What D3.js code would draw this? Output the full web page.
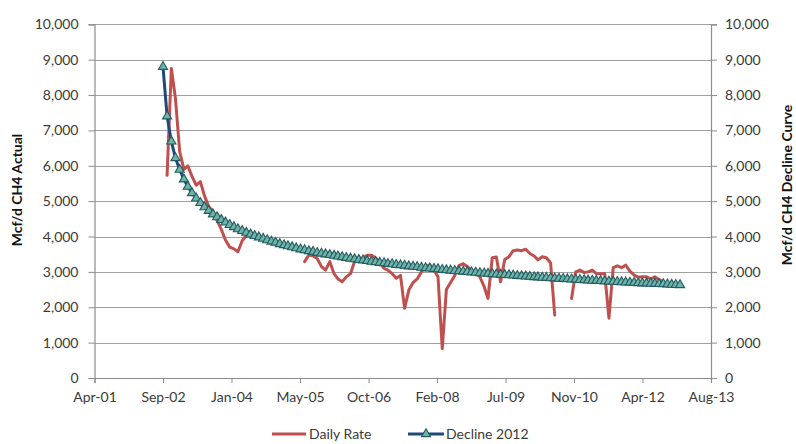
<!DOCTYPE html>
<html>
<head>
<meta charset="utf-8">
<script src="https://cdn.jsdelivr.net/npm/d3@7"></script>
<style>
  html, body { margin: 0; padding: 0; background: #ffffff; }
  svg { display: block; font-family: Lato, "Open Sans", sans-serif; }
</style>
</head>
<body>
<svg id="chart" width="796" height="444"></svg>
<script>
// ---- Data ----
const xTickDates = ["2001-04-19","2002-09-01","2004-01-14","2005-05-29","2006-10-11",
                    "2008-02-23","2009-07-07","2010-11-19","2012-04-02","2013-08-15"];
const yTicks = [0,1000,2000,3000,4000,5000,6000,7000,8000,9000,10000];

// Daily Rate: monthly values starting Oct 2002 (null = no data)
const dailyRateStart = "2002-10";
const dailyRateValues = [
  5730, 8750, 7900,                                                        // 2002 Oct-Dec
  6400, 5900, 6000, 5700, 5450, 5550, 5150, 4850, 4700, 4450, 4200, 3900,  // 2003
  3700, 3650, 3570, 3880, 4030, null, null, null, null, null, null, null,  // 2004
  null, null, null, null, null, null, 3290, 3480, 3450, 3380, 3150, 3050,  // 2005
  3290, 2950, 2800, 2720, 2860, 2950, 3300, 3350, 3400, 3470, 3470, 3400,  // 2006
  3250, 3100, 3050, 2950, 2820, 2900, 1970, 2490, 2700, 2800, 3000, 3150,  // 2007
  3200, 3050, 2860,  830, 2500, 2700, 2900, 3180, 3230, 3150, 3050, 2980,  // 2008
  2860, 2580, 2250, 3400, 3420, 2720, 3350, 3430, 3600, 3620, 3600, 3640,  // 2009
  3520, 3450, 3340, 3430, 3400, 3250, 1780, null, null, null, 2250, 3000,  // 2010
  3050, 2980, 3000, 3050, 2950, 2950, 2950, 1690, 3120, 3170, 3120, 3190,  // 2011
  3020, 2910, 2850, 2860, 2860, 2800, 2860, 2780, 2720                     // 2012 Jan-Sep
];

// Decline 2012: monthly values starting Sep 2002
const declineStart = "2002-09";
const declineValues = [
  8800, 7400, 6690, 6220,                                                  // 2002 Sep-Dec
  5890, 5620, 5410, 5230, 5080, 4950, 4830, 4730, 4630, 4550, 4470, 4400,  // 2003
  4330, 4270, 4210, 4160, 4110, 4060, 4020, 3980, 3940, 3900, 3860, 3830,  // 2004
  3790, 3760, 3730, 3700, 3670, 3640, 3620, 3590, 3570, 3540, 3520, 3500,  // 2005
  3480, 3460, 3440, 3420, 3400, 3380, 3360, 3340, 3330, 3310, 3290, 3280,  // 2006
  3260, 3250, 3230, 3220, 3200, 3190, 3180, 3160, 3150, 3140, 3120, 3110,  // 2007
  3100, 3090, 3080, 3060, 3050, 3040, 3030, 3020, 3010, 3000, 2990, 2980,  // 2008
  2970, 2960, 2950, 2940, 2930, 2920, 2915, 2910, 2900, 2890, 2880, 2875,  // 2009
  2865, 2855, 2850, 2840, 2835, 2825, 2820, 2810, 2805, 2795, 2790, 2785,  // 2010
  2775, 2770, 2760, 2755, 2750, 2745, 2735, 2730, 2725, 2720, 2710, 2705,  // 2011
  2700, 2695, 2685, 2680, 2675, 2670, 2665, 2660, 2655, 2650, 2640, 2635,  // 2012
  2630                                                                     // 2013 Jan
];

const seriesNames = ["Daily Rate", "Decline 2012"];

// ---- Build dated points ----
const parseYM = d3.timeParse("%Y-%m");
const parseYMD = d3.timeParse("%Y-%m-%d");
const dailyData = dailyRateValues.map((v, i) => ({ date: d3.timeMonth.offset(parseYM(dailyRateStart), i), value: v }));
const declineData = declineValues.map((v, i) => ({ date: d3.timeMonth.offset(parseYM(declineStart), i), value: v }));
const tickDates = xTickDates.map(parseYMD);

// ---- Layout ----
const svg = d3.select("#chart");
const plot = { left: 94.5, right: 711, top: 24.3, bottom: 378 };

const x = d3.scaleTime().domain([tickDates[0], tickDates[tickDates.length - 1]]).range([plot.left, plot.right]);
const yL = d3.scaleLinear().domain([0, 10000]).range([plot.bottom, plot.top]);
const yR = d3.scaleLinear().domain([0, 10000]).range([plot.bottom, plot.top]);

const gridColor = "#a0a0a0";
const axisColor = "#8c8c8c";
const textColor = "#3a3a3a";

// Gridlines
svg.append("g").selectAll("line").data(yTicks.filter(t => t > 0)).join("line")
  .attr("x1", plot.left).attr("x2", plot.right)
  .attr("y1", d => Math.round(yL(d)) + 0.5).attr("y2", d => Math.round(yL(d)) + 0.5)
  .attr("stroke", gridColor).attr("stroke-width", 1);

// Left axis
const fmt = d3.format(",");
const gL = svg.append("g").attr("transform", `translate(${plot.left},0)`)
  .call(d3.axisLeft(yL).tickValues(yTicks).tickFormat(fmt).tickSize(6).tickPadding(10));
// Right axis
const gR = svg.append("g").attr("transform", `translate(${plot.right},0)`)
  .call(d3.axisRight(yR).tickValues(yTicks).tickFormat(fmt).tickSize(6).tickPadding(8));
// Bottom axis
const gB = svg.append("g").attr("transform", `translate(0,${plot.bottom})`)
  .call(d3.axisBottom(x).tickValues(tickDates).tickFormat(d3.timeFormat("%b-%y")).tickSize(5).tickPadding(9));

[gL, gR, gB].forEach(g => {
  g.select(".domain").attr("stroke", axisColor).attr("stroke-width", 1.2);
  g.selectAll(".tick line").attr("stroke", axisColor);
  g.selectAll(".tick text").attr("fill", textColor).style("font-size", "14px").style("font-family", "Lato, sans-serif");
});

// Axis titles
svg.append("text")
  .attr("transform", `translate(22,190) rotate(-90)`)
  .attr("text-anchor", "middle")
  .style("font-size", "14px").style("font-weight", "bold").attr("fill", "#111")
  .text("Mcf/d CH4 Actual");
svg.append("text")
  .attr("transform", `translate(792,185) rotate(-90)`)
  .attr("text-anchor", "middle")
  .style("font-size", "14px").style("font-weight", "bold").attr("fill", "#111")
  .text("Mcf/d CH4 Decline Curve");

// ---- Series ----
const red = "#c0504d";
const navy = "#1f497d";
const triFill = "#6cb3a8";
const triStroke = "#245a60";

const dailyLine = d3.line().defined(d => d.value != null).x(d => x(d.date)).y(d => yL(d.value));
svg.append("path").datum(dailyData)
  .attr("d", dailyLine).attr("fill", "none").attr("stroke", red)
  .attr("stroke-width", 3).attr("stroke-linejoin", "round").attr("stroke-linecap", "round");

const declineLine = d3.line().x(d => x(d.date)).y(d => yR(d.value));
svg.append("path").datum(declineData)
  .attr("d", declineLine).attr("fill", "none").attr("stroke", navy)
  .attr("stroke-width", 3).attr("stroke-linejoin", "round");

const tri = d3.symbol().type(d3.symbolTriangle).size(36);
svg.append("g").selectAll("path").data(declineData).join("path")
  .attr("transform", d => `translate(${x(d.date)},${yR(d.value)})`)
  .attr("d", tri).attr("fill", triFill).attr("stroke", triStroke).attr("stroke-width", 1.1);

// ---- Legend ----
const leg = svg.append("g").attr("transform", "translate(0,434)");
leg.append("line").attr("x1", 272).attr("x2", 306).attr("y1", 0).attr("y2", 0)
  .attr("stroke", red).attr("stroke-width", 3);
leg.append("text").attr("x", 309).attr("y", 5).attr("fill", textColor)
  .style("font-size", "14px").text(seriesNames[0]);
leg.append("line").attr("x1", 408).attr("x2", 444).attr("y1", 0).attr("y2", 0)
  .attr("stroke", navy).attr("stroke-width", 3);
leg.append("path").attr("transform", "translate(426,0)").attr("d", tri)
  .attr("fill", triFill).attr("stroke", triStroke).attr("stroke-width", 1.1);
leg.append("text").attr("x", 446).attr("y", 5).attr("fill", textColor)
  .style("font-size", "14px").text(seriesNames[1]);
</script>
</body>
</html>
